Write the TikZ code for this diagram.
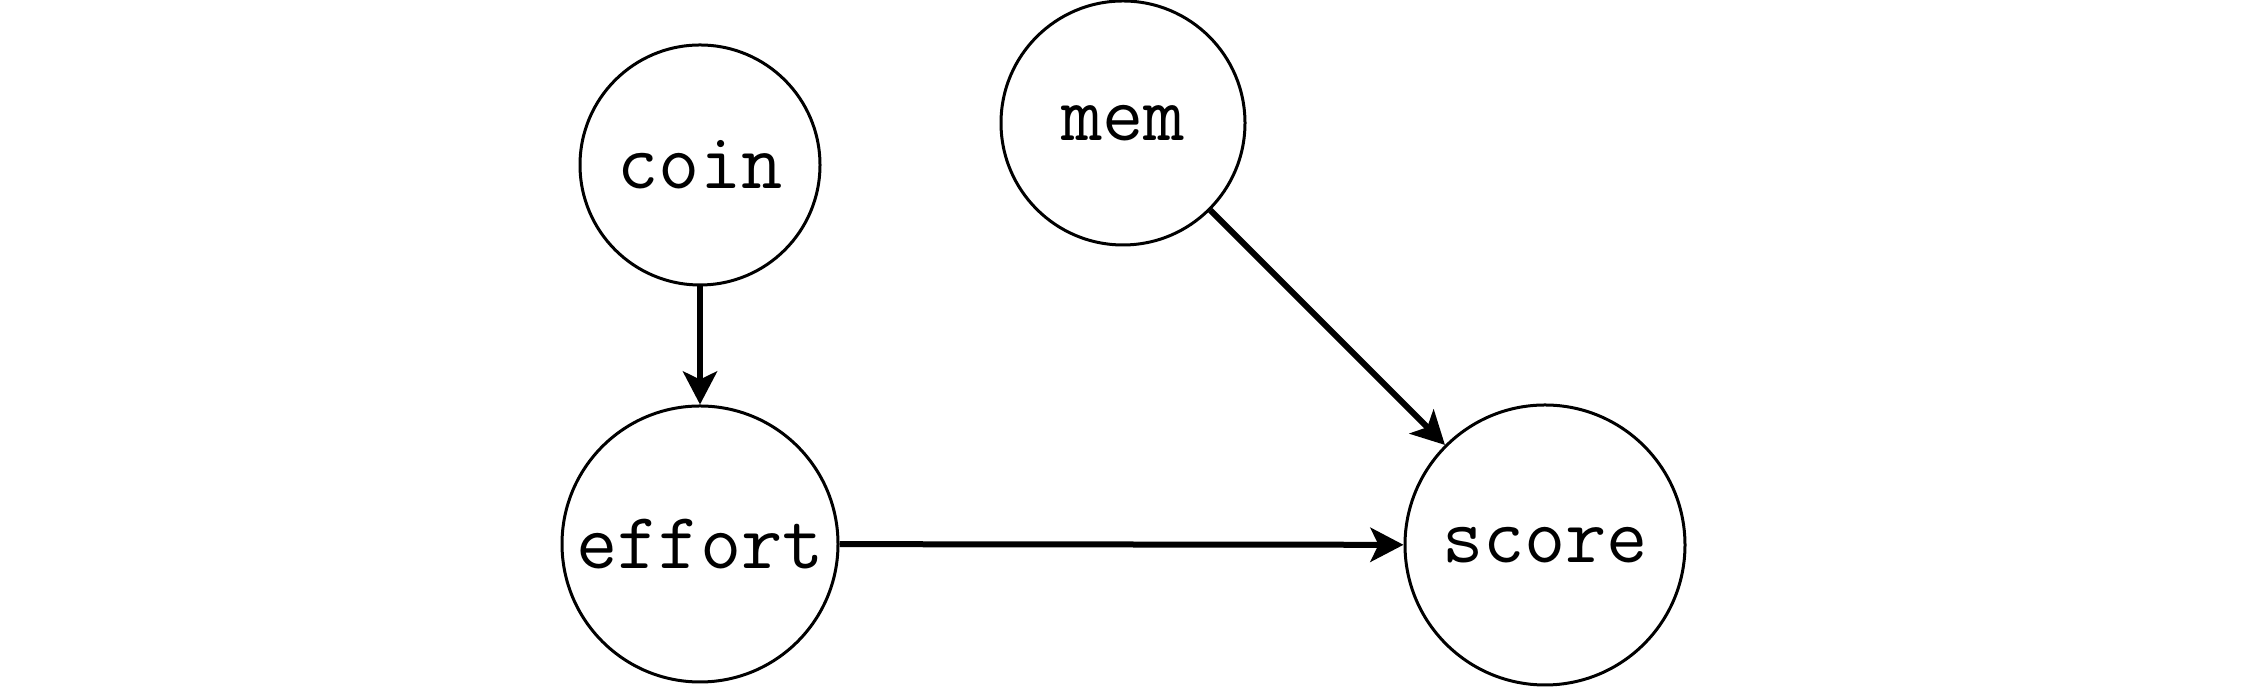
\documentclass[tikz,border=0pt]{standalone}
\usetikzlibrary{arrows.meta}
\begin{document}
\begin{tikzpicture}[x=1pt,y=1pt,
  var/.style={circle,draw,line width=1.5pt,inner sep=0pt,
    font=\ttfamily\fontsize{40}{48}\selectfont},
  edge/.style={line width=3pt,-{Stealth[length=16.5pt,width=17pt,inset=4pt]}}]
\useasboundingbox (0,0) rectangle (1125,344);
\node[var,minimum size=120pt] (coin) at (350,261.5) {coin};
\node[var,minimum size=122pt] (mem) at (561.5,282.5) {mem};
\node[var,minimum size=138pt] (effort) at (350,72) {effort};
\node[var,minimum size=140pt] (score) at (772.5,71.5) {score};
\draw[edge] (coin) -- (effort);
\draw[edge] (effort) -- (score);
\draw[edge] (mem) -- (score);
\end{tikzpicture}
\end{document}
